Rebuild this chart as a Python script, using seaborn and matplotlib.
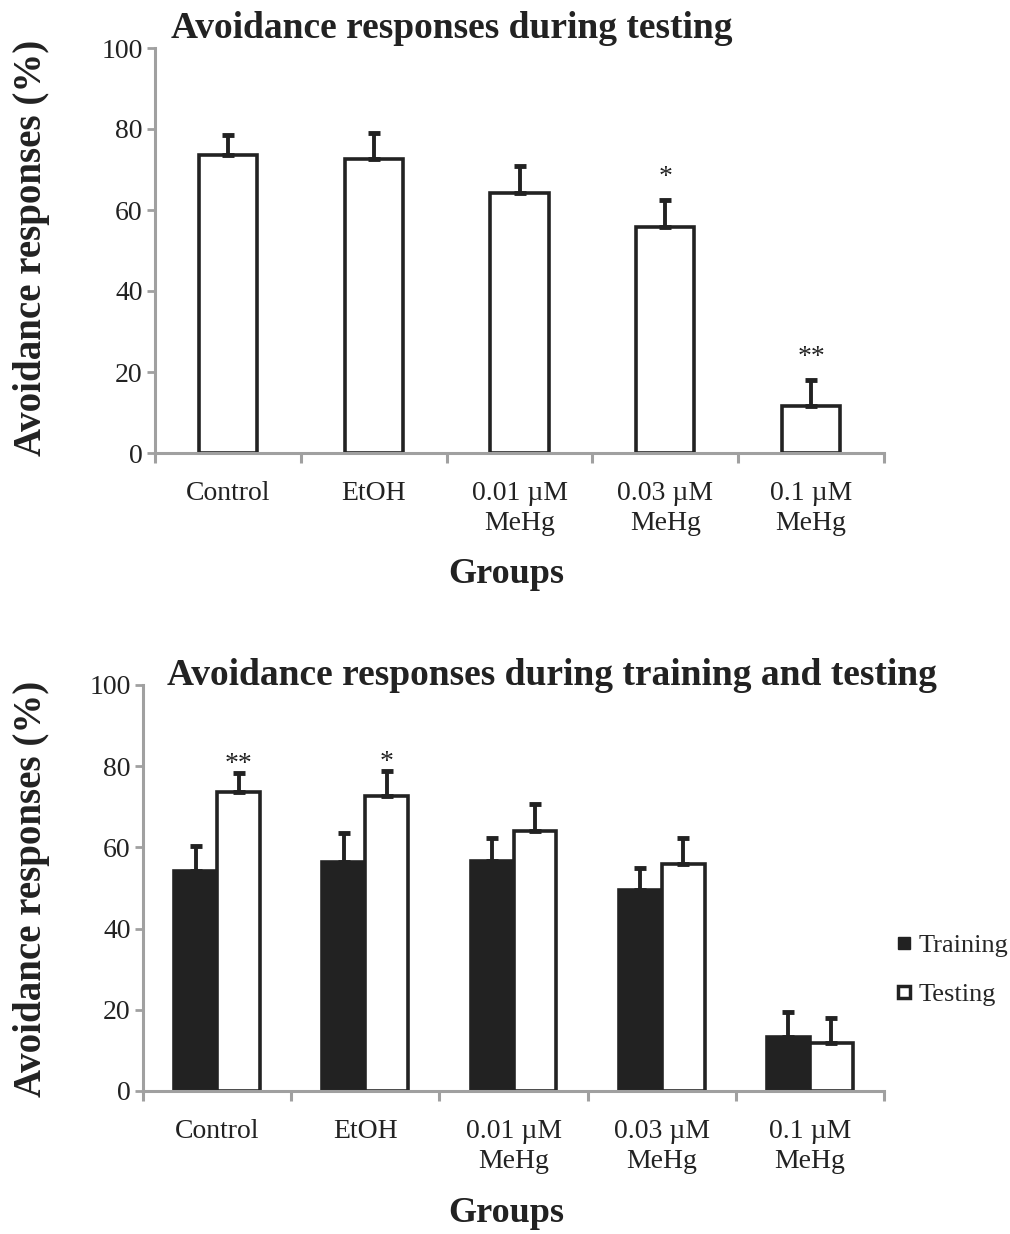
import numpy as np
import pandas as pd
import matplotlib
matplotlib.use("Agg")
import matplotlib.pyplot as plt
from matplotlib.lines import Line2D
import seaborn as sns

# values
groups = ["Control", "EtOH", "0.01 µM\nMeHg", "0.03 µM\nMeHg", "0.1 µM\nMeHg"]
testing_mean = [73.7, 72.7, 64.1, 55.8, 11.7]
testing_sem = [4.7, 6.2, 6.7, 6.6, 6.3]
training_mean = [54.2, 56.4, 56.7, 49.5, 13.3]
training_sem = [6.1, 7.1, 5.6, 5.5, 6.2]
stars_top = ["", "", "", "*", "**"]
stars_bottom = ["**", "*", "", "", ""]

sns.set_style("white")
plt.rcParams['font.family'] = ['Liberation Serif', 'DejaVu Serif']

INK = "#222222"
AXC = "#a0a0a0"
W, H = 1010, 1234

fig = plt.figure(figsize=(W / 100, H / 100), dpi=100)
ax1 = fig.add_axes([155 / W, 1 - 453 / H, 729 / W, 405 / H])
ax2 = fig.add_axes([143 / W, 1 - 1091 / H, 741 / W, 406 / H])


def style_axes(ax):
    ax.set_ylim(0, 100)
    ax.set_xlim(-0.5, 4.5)
    ax.set_yticks(range(0, 101, 20))
    ax.set_xticks(range(5))
    ax.set_xticklabels(groups, linespacing=1.25)
    ax.set_xticks(np.arange(-0.5, 5, 1), minor=True)
    for s in ["top", "right"]:
        ax.spines[s].set_visible(False)
    for s in ["left", "bottom"]:
        ax.spines[s].set_color(AXC)
        ax.spines[s].set_linewidth(2.2)
    ax.tick_params(axis="y", length=6, width=2, color=AXC, labelsize=20,
                   pad=3, labelcolor=INK, left=True)
    ax.tick_params(axis="x", which="major", length=0, labelsize=20,
                   pad=20, labelcolor=INK)
    ax.tick_params(axis="x", which="minor", length=7, width=2.2,
                   color=AXC, direction="out", bottom=True)
    ax.set_xlabel("")
    ax.set_ylabel("")


# top panel: testing only
df_test = pd.DataFrame({"group": groups, "value": testing_mean})
sns.barplot(data=df_test, x="group", y="value", color="white",
            edgecolor=INK, linewidth=2.6, width=0.4, errorbar=None,
            saturation=1, ax=ax1)
xs = np.arange(len(groups))
ax1.errorbar(xs, testing_mean, yerr=[np.zeros(5), testing_sem], fmt="none",
             ecolor=INK, elinewidth=2.8, capsize=4, capthick=3.5, zorder=5)
for x, m, e, s in zip(xs, testing_mean, testing_sem, stars_top):
    if s:
        ax1.text(x, m + e + 2.5, s, ha="center", va="bottom", fontsize=20,
                 color=INK)
style_axes(ax1)

# bottom panel: training vs testing
df_both = pd.DataFrame({
    "group": groups * 2,
    "session": ["Training"] * 5 + ["Testing"] * 5,
    "value": training_mean + testing_mean,
})
sns.barplot(data=df_both, x="group", y="value", hue="session",
            palette={"Training": INK, "Testing": "white"},
            edgecolor=INK, linewidth=2.6, width=0.58, errorbar=None,
            saturation=1, legend=False, ax=ax2)
for cont, means, sems, stars in zip(ax2.containers,
                                    [training_mean, testing_mean],
                                    [training_sem, testing_sem],
                                    [[""] * 5, stars_bottom]):
    cx = [b.get_x() + b.get_width() / 2 for b in cont]
    ax2.errorbar(cx, means, yerr=[np.zeros(5), sems], fmt="none",
                 ecolor=INK, elinewidth=2.8, capsize=4, capthick=3.5,
                 zorder=5)
    for x, m, e, s in zip(cx, means, sems, stars):
        if s:
            ax2.text(x, m + e - 1, s, ha="center", va="bottom", fontsize=20,
                     color=INK)
style_axes(ax2)

handles = [
    Line2D([], [], ls="none", marker="s", markersize=9, markerfacecolor=INK,
           markeredgecolor=INK, label="Training"),
    Line2D([], [], ls="none", marker="s", markersize=9,
           markerfacecolor="white", markeredgecolor=INK,
           markeredgewidth=2.5, label="Testing"),
]
ax2.legend(handles=handles, loc="center left", bbox_to_anchor=(1.008, 0.298),
           frameon=False, fontsize=19, handlelength=0.7, handletextpad=0.2,
           labelspacing=0.95, borderpad=0.2, borderaxespad=0)

# titles and axis labels
fig.text(452 / W, 1 - 38 / H, "Avoidance responses during testing",
         ha="center", va="baseline", fontsize=27, fontweight="bold", color=INK)
fig.text(552 / W, 1 - 685 / H, "Avoidance responses during training and testing",
         ha="center", va="baseline", fontsize=27, fontweight="bold", color=INK)
fig.text(32 / W, 1 - 248 / H, "Avoidance responses (%)", rotation=90,
         ha="center", va="center", fontsize=28, fontweight="bold", color=INK)
fig.text(32 / W, 1 - 889 / H, "Avoidance responses (%)", rotation=90,
         ha="center", va="center", fontsize=28, fontweight="bold", color=INK)
fig.text(506 / W, 1 - 583 / H, "Groups", ha="center", va="baseline",
         fontsize=26, fontweight="bold", color=INK)
fig.text(506 / W, 1 - 1222 / H, "Groups", ha="center", va="baseline",
         fontsize=26, fontweight="bold", color=INK)

fig.savefig("out.png", dpi=100, facecolor="white")
